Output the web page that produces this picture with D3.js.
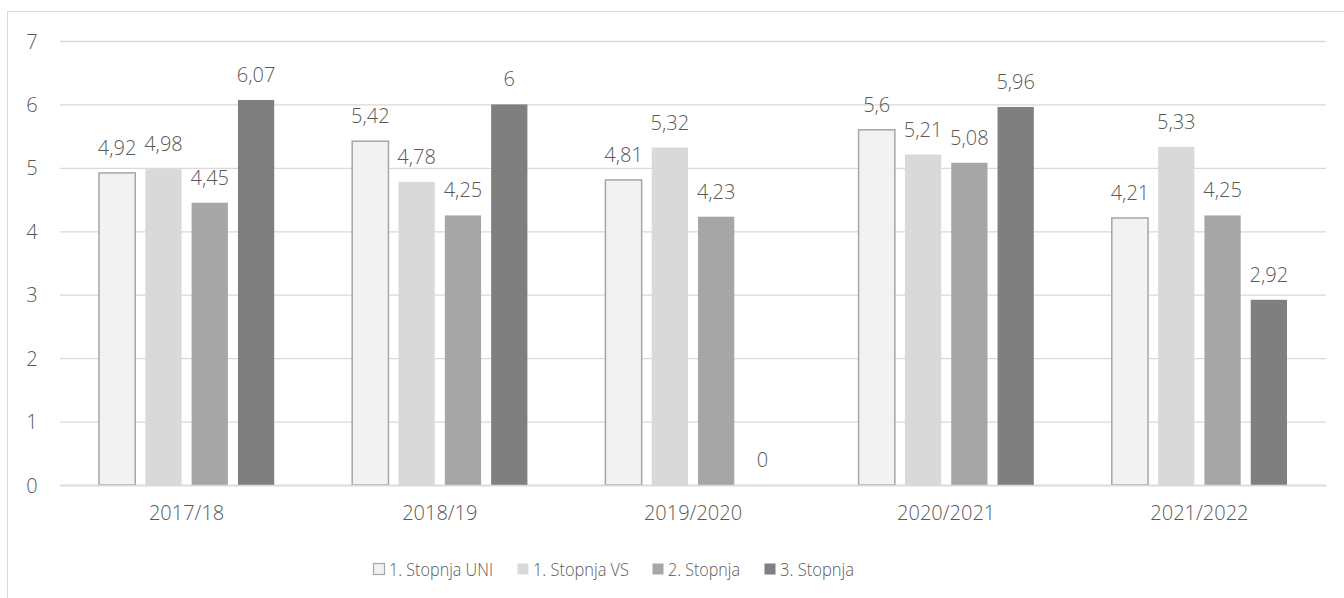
<!DOCTYPE html>
<html><head><meta charset="utf-8">
<script src="https://cdn.jsdelivr.net/npm/d3@7"></script>
<style>
html,body{margin:0;padding:0;background:#fff;}
svg{display:block;}
text{font-family:"Open Sans",sans-serif;font-weight:300;fill:#595959;}
</style></head><body>
<svg id="chart" width="1344" height="598"></svg>
<script>
const categories = ["2017/18","2018/19","2019/2020","2020/2021","2021/2022"];
const seriesNames = ["1. Stopnja UNI","1. Stopnja VS","2. Stopnja","3. Stopnja"];
const uni = [4.92,5.42,4.81,5.6,4.21];
const vs = [4.98,4.78,5.32,5.21,5.33];
const st2 = [4.45,4.25,4.23,5.08,4.25];
const st3 = [6.07,6,0,5.96,2.92];
const yTicks = [0,1,2,3,4,5,6,7];
const colors = ["#f2f2f2","#d9d9d9","#a6a6a6","#7f7f7f"];

const seriesValues = [uni,vs,st2,st3];
const svg = d3.select("#chart");
const W = 1344, H = 598;
const m = {left:60, right:18, top:41, bottom:113};

// outer border
svg.append("rect").attr("x",7.5).attr("y",11.5).attr("width",W+10).attr("height",H+10)
  .attr("fill","none").attr("stroke","#d9d9d9").attr("stroke-width",1);

const x0 = d3.scaleBand().domain(categories).range([m.left, W-m.right]).paddingInner(0.308).paddingOuter(0.154);
const x1 = d3.scaleBand().domain(d3.range(4)).range([0, x0.bandwidth()]).paddingInner(0.217).paddingOuter(0);
const y = d3.scaleLinear().domain([0,7]).range([H-m.bottom, m.top]);

// grid
const grid = svg.append("g").attr("transform",`translate(${m.left},0)`)
  .call(d3.axisLeft(y).tickValues(yTicks).tickSize(-(W-m.left-m.right)).tickFormat(d=>d));
grid.select(".domain").remove();
grid.selectAll(".tick line").attr("stroke","#d9d9d9").attr("stroke-width",1.3);
grid.selectAll(".tick text").attr("x",-28).attr("font-size",20).style("text-anchor","middle").attr("dy","0.35em");

// bars
const groups = svg.append("g").selectAll("g").data(categories).join("g")
  .attr("transform",d=>`translate(${x0(d)},0)`);
groups.each(function(cat,ci){
  const g = d3.select(this);
  seriesValues.forEach((vals,si)=>{
    const v = vals[ci];
    if (v>0) {
      g.append("rect").attr("x",x1(si)).attr("width",x1.bandwidth())
        .attr("y",y(v)).attr("height",y(0)-y(v))
        .attr("fill",colors[si])
        .attr("stroke", si===0 ? "#a6a6a6" : "none").attr("stroke-width", si===0?1.5:0);
    }
    g.append("text").attr("x",x1(si)+x1.bandwidth()/2).attr("y",y(v)-18)
      .attr("text-anchor","middle").attr("font-size",20)
      .text(String(v).replace(".",","));
  });
});

// x axis
const xa = svg.append("g").attr("transform",`translate(0,${y(0)})`)
  .call(d3.axisBottom(x0).tickSize(0));
xa.select(".domain").attr("stroke","#d9d9d9").attr("stroke-width",1.3);
xa.selectAll("text").attr("font-size",20).attr("y",28).attr("dy","0.35em");

// legend
const legX = [373,517,652,764];
const legW = [104,96,72,74];
const leg = svg.append("g");
seriesNames.forEach((n,i)=>{
  leg.append("rect").attr("x",legX[i]+0.5).attr("y",563.5).attr("width",11).attr("height",11)
    .attr("fill",colors[i]).attr("stroke",i===0?"#a6a6a6":"none").attr("stroke-width",1.2);
  leg.append("text").attr("x",legX[i]+16).attr("y",569.5).attr("dy","0.35em")
    .attr("font-size",19).attr("textLength",legW[i]).attr("lengthAdjust","spacingAndGlyphs").text(n);
});
</script>
</body></html>
